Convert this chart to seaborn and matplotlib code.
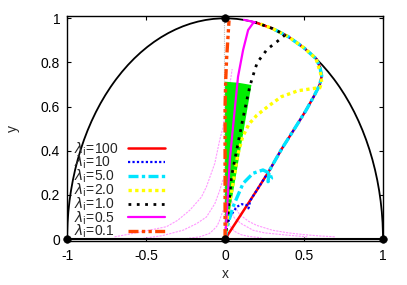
import matplotlib
matplotlib.use("Agg")
import matplotlib.pyplot as plt
from matplotlib.patches import Arc
import seaborn as sns

# trajectories (x, y)
lam100_x = [0, 0.1, 0.2, 0.28, 0.36, 0.44, 0.51, 0.565, 0.6, 0.612, 0.6, 0.578, 0.5, 0.4, 0.3, 0.19]
lam100_y = [0, 0.11, 0.22, 0.31, 0.41, 0.5, 0.58, 0.65, 0.7, 0.74, 0.78, 0.816, 0.866, 0.917, 0.954, 0.982]

lam10_x = [0, 0.006, 0.03, 0.074, 0.106, 0.137, 0.148, 0.16, 0.2, 0.28, 0.36, 0.44, 0.51, 0.565, 0.6, 0.612, 0.6, 0.578, 0.5, 0.4, 0.3]
lam10_y = [0, 0.04, 0.10, 0.146, 0.158, 0.154, 0.139, 0.175, 0.22, 0.31, 0.41, 0.5, 0.58, 0.65, 0.7, 0.74, 0.78, 0.816, 0.866, 0.917, 0.954]

lam5_x = [0, 0.015, 0.05, 0.114, 0.177, 0.24, 0.283, 0.294, 0.272, 0.28, 0.36, 0.44, 0.51, 0.565, 0.6, 0.612, 0.6, 0.578, 0.5, 0.4, 0.3]
lam5_y = [0, 0.06, 0.146, 0.252, 0.298, 0.313, 0.298, 0.275, 0.26, 0.31, 0.41, 0.5, 0.58, 0.65, 0.7, 0.74, 0.78, 0.816, 0.866, 0.917, 0.954]

lam2_x = [0, 0.01, 0.025, 0.05, 0.08, 0.11, 0.15, 0.2, 0.27, 0.357, 0.462, 0.568, 0.6, 0.612, 0.605, 0.59, 0.575, 0.5, 0.4, 0.3, 0.22]
lam2_y = [0, 0.07, 0.15, 0.25, 0.38, 0.46, 0.52, 0.56, 0.6, 0.645, 0.672, 0.683, 0.685, 0.71, 0.75, 0.785, 0.818, 0.866, 0.917, 0.954, 0.975]

lam1_x = [0, 0.02, 0.04, 0.082, 0.12, 0.156, 0.188, 0.204, 0.267, 0.33, 0.38, 0.3, 0.19]
lam1_y = [0, 0.12, 0.28, 0.434, 0.57, 0.69, 0.766, 0.80, 0.86, 0.895, 0.925, 0.954, 0.982]

lam05_x = [0, 0.01, 0.03, 0.061, 0.082, 0.114, 0.146, 0.177, 0.19, 0.16, 0.12]
lam05_y = [0, 0.1, 0.36, 0.585, 0.735, 0.856, 0.947, 0.978, 0.982, 0.987, 0.993]

lam01_x = [0, 0, 0.004, 0.01, 0.025]
lam01_y = [0, 0.6, 0.72, 0.82, 0.99]

# thin pink curves near the floor
pink_left1_x = [-0.7, -0.55, -0.371, -0.3, -0.223, -0.15, -0.118, -0.065, -0.034, -0.015, 0.0, 0.02, 0.045]
pink_left1_y = [0.01, 0.03, 0.056, 0.085, 0.131, 0.19, 0.237, 0.343, 0.449, 0.5, 0.56, 0.65, 0.77]
pink_left2_x = [-0.52, -0.4, -0.266, -0.18, -0.118, -0.065, -0.034, -0.013]
pink_left2_y = [0.003, 0.015, 0.04, 0.07, 0.10, 0.16, 0.22, 0.27]
pink_left3_x = [-0.27, -0.16, -0.1, -0.076, -0.05, -0.034, -0.013]
pink_left3_y = [0.0, 0.01, 0.025, 0.04, 0.06, 0.086, 0.13]
pink_right1_x = [0.02, 0.05, 0.093, 0.15, 0.2, 0.3, 0.4, 0.5, 0.6, 0.7]
pink_right1_y = [0.2, 0.16, 0.11, 0.08, 0.062, 0.04, 0.028, 0.02, 0.014, 0.01]
pink_right2_x = [0.01, 0.03, 0.06, 0.1, 0.177, 0.25, 0.39, 0.52]
pink_right2_y = [0.17, 0.131, 0.095, 0.071, 0.04, 0.028, 0.018, 0.01]
pink_right3_x = [0.01, 0.03, 0.06, 0.1, 0.15, 0.23]
pink_right3_y = [0.1, 0.06, 0.035, 0.02, 0.012, 0.006]

# green sector
wedge_x = [0, 0, 0.085, 0.167, 0]
wedge_y = [0, 0.713, 0.708, 0.698, 0]

# fixed points
dots_x = [-1, 0, 1, 0]
dots_y = [0, 0, 0, 1]

circle_radius = 1.0

xticks = [-1, -0.5, 0, 0.5, 1]
xticklabels = ["-1", "-0.5", "0", "0.5", "1"]
yticks = [0, 0.2, 0.4, 0.6, 0.8, 1]
yticklabels = ["0", "0.2", "0.4", "0.6", "0.8", "1"]

sns.set_theme(style="ticks")
plt.rcParams["font.family"] = ["Liberation Sans", "DejaVu Sans"]
plt.rcParams["mathtext.fontset"] = "dejavusans"
plt.rcParams["xtick.direction"] = "in"
plt.rcParams["ytick.direction"] = "in"

fig, ax = plt.subplots(figsize=(4.07, 2.85), dpi=100)
fig.subplots_adjust(left=0.165, right=0.941, bottom=0.155, top=0.945)

ax.add_patch(Arc((0, 0), 2 * circle_radius, 2 * circle_radius, theta1=0, theta2=180,
                 color="black", lw=1.3, zorder=2))
ax.axhline(0, color="black", lw=1.5, zorder=2)
ax.vlines(-0.005, 0, 1, color="#bbbbbb", lw=0.8, linestyles=(0, (1, 1)), zorder=1)

for px, py in [(pink_left1_x, pink_left1_y), (pink_left2_x, pink_left2_y), (pink_left3_x, pink_left3_y),
               (pink_right1_x, pink_right1_y), (pink_right2_x, pink_right2_y), (pink_right3_x, pink_right3_y)]:
    sns.lineplot(x=px, y=py, sort=False, estimator=None, ax=ax, color="#ff99ff",
                 lw=0.8, linestyle=(0, (2, 1)), zorder=1)

ax.fill(wedge_x, wedge_y, color="#00ee00", lw=0, zorder=2)

series = [
    (lam100_x, lam100_y, r"$\lambda_{\rm i}$=100", "#ff0000", "-", 1.8),
    (lam10_x, lam10_y, r"$\lambda_{\rm i}$=10", "#0000ff", (0, (1, 1)), 1.6),
    (lam5_x, lam5_y, r"$\lambda_{\rm i}$=5.0", "#00e5ff", (0, (3, 1, 1, 1)), 2.4),
    (lam2_x, lam2_y, r"$\lambda_{\rm i}$=2.0", "#ffff00", (0, (1, 1)), 2.4),
    (lam1_x, lam1_y, r"$\lambda_{\rm i}$=1.0", "#000000", (0, (1, 2)), 2.0),
    (lam05_x, lam05_y, r"$\lambda_{\rm i}$=0.5", "#ff00ff", "-", 1.6),
    (lam01_x, lam01_y, r"$\lambda_{\rm i}$=0.1", "#ff4500", (0, (3, 1, 1, 1, 1, 1)), 2.4),
]
for sx, sy, lab, col, ls, lw in series:
    sns.lineplot(x=sx, y=sy, sort=False, estimator=None, ax=ax, color=col,
                 linestyle=ls, lw=lw, label=lab, zorder=3)

sns.scatterplot(x=dots_x, y=dots_y, ax=ax, color="black", s=30, edgecolor="black",
                clip_on=False, zorder=5)

ax.set_xlim(-1, 1)
ax.set_ylim(-0.008, 1.012)
ax.set_xticks(xticks)
ax.set_xticklabels(xticklabels)
ax.set_yticks(yticks)
ax.set_yticklabels(yticklabels)
ax.tick_params(labelsize=10, length=3, width=0.8, top=True, right=True, colors="black")
ax.tick_params(axis="x", pad=6)
ax.tick_params(axis="y", pad=5)
for sp in ax.spines.values():
    sp.set_visible(True)
    sp.set_linewidth(1.0)
    sp.set_color("black")
ax.set_xlabel("x", fontsize=10, labelpad=3)
ax.set_ylabel("y", fontsize=10, labelpad=15)

leg = ax.legend(loc="lower left", bbox_to_anchor=(0.022, 0.002), frameon=False, markerfirst=False,
                fontsize=10, handlelength=2.6, handletextpad=0.7, labelspacing=-0.26,
                borderpad=0, borderaxespad=0)

# gnuplot-style key: text left-justified, samples lined up on the right
fig.canvas.draw()
renderer = fig.canvas.get_renderer()
column = leg._legend_handle_box.get_children()[0]
rows = column.get_children()
row_w = max(r.get_bbox(renderer).width for r in rows)
column.align = "left"
for r in rows:
    r.mode = "expand"
    r.width = row_w

fig.savefig("out.png", dpi=100)
